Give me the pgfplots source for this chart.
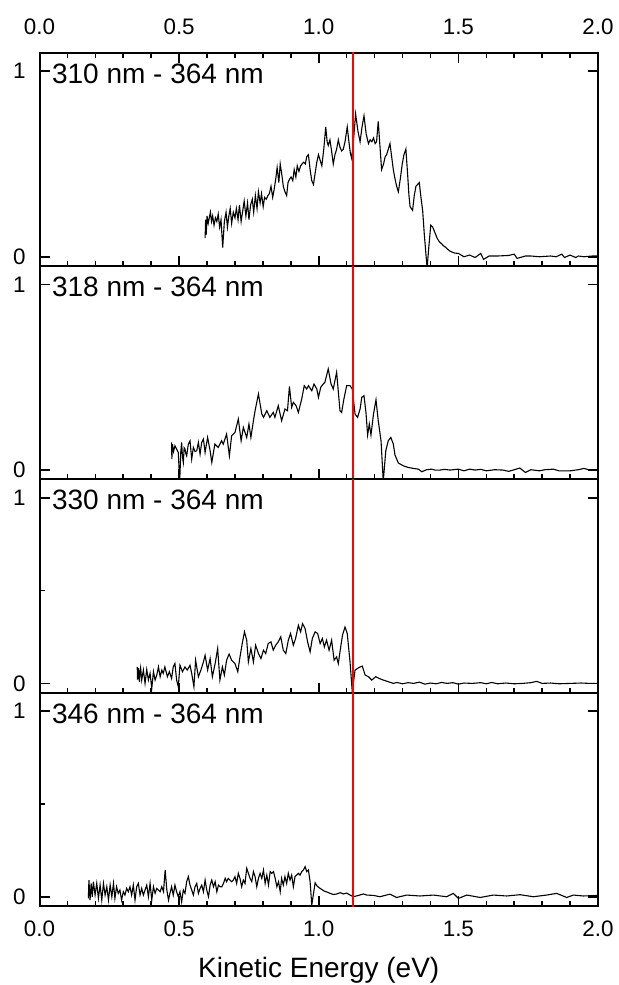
\documentclass[border=0pt]{standalone}
\usepackage{fontspec}
\setmainfont{Liberation Sans}
\usepackage{pgfplots}
\usepackage{pgfplotstable}
\pgfplotsset{compat=1.18}
\usepgfplotslibrary{groupplots}

% 310 nm - 364 nm
\pgfplotstableread{
x y
0.593 0.10
0.595 0.20
0.597 0.12
0.600 0.22
0.604 0.18
0.608 0.21
0.612 0.24
0.616 0.19
0.620 0.22
0.625 0.17
0.630 0.21
0.635 0.19
0.640 0.23
0.645 0.16
0.650 0.20
0.656 0.05
0.662 0.19
0.668 0.24
0.673 0.16
0.678 0.22
0.683 0.26
0.688 0.18
0.694 0.24
0.700 0.21
0.705 0.26
0.711 0.20
0.716 0.28
0.722 0.19
0.728 0.25
0.733 0.30
0.739 0.22
0.745 0.29
0.750 0.20
0.756 0.28
0.762 0.31
0.767 0.24
0.773 0.33
0.779 0.26
0.784 0.35
0.790 0.29
0.795 0.34
0.801 0.27
0.806 0.32
0.812 0.31
0.818 0.33
0.823 0.34
0.829 0.38
0.835 0.32
0.840 0.36
0.846 0.42
0.851 0.48
0.857 0.40
0.862 0.50
0.868 0.44
0.873 0.38
0.879 0.35
0.885 0.33
0.890 0.40
0.896 0.42
0.901 0.43
0.907 0.41
0.912 0.47
0.918 0.43
0.923 0.49
0.929 0.46
0.935 0.49
0.940 0.50
0.946 0.51
0.952 0.50
0.957 0.54
0.963 0.55
0.969 0.47
0.975 0.41
0.981 0.39
0.987 0.45
0.993 0.51
0.999 0.55
1.005 0.52
1.011 0.49
1.018 0.58
1.025 0.70
1.030 0.62
1.034 0.60
1.040 0.63
1.046 0.57
1.052 0.50
1.058 0.55
1.064 0.58
1.070 0.63
1.076 0.59
1.082 0.57
1.088 0.58
1.094 0.62
1.102 0.70
1.108 0.62
1.113 0.56
1.118 0.53
1.125 0.64
1.132 0.77
1.140 0.68
1.148 0.62
1.155 0.70
1.162 0.76
1.170 0.66
1.178 0.61
1.184 0.63
1.190 0.62
1.196 0.64
1.202 0.61
1.207 0.62
1.213 0.73
1.219 0.60
1.225 0.47
1.232 0.50
1.238 0.54
1.243 0.55
1.249 0.58
1.255 0.61
1.261 0.54
1.267 0.47
1.273 0.42
1.279 0.38
1.285 0.35
1.292 0.42
1.299 0.50
1.305 0.55
1.312 0.58
1.318 0.45
1.323 0.33
1.327 0.27
1.336 0.25
1.342 0.33
1.348 0.38
1.354 0.39
1.360 0.40
1.366 0.32
1.372 0.25
1.378 0.12
1.384 0.01
1.388 -0.06
1.394 0.05
1.401 0.17
1.408 0.16
1.416 0.13
1.424 0.10
1.432 0.08
1.440 0.07
1.446 0.06
1.455 0.05
1.462 0.04
1.470 0.03
1.478 0.025
1.486 0.02
1.500 0.018
1.520 0.000
1.540 0.009
1.560 -0.004
1.580 0.018
1.590 -0.014
1.610 0.004
1.640 0.004
1.680 0.007
1.700 0.014
1.710 -0.009
1.740 0.004
1.760 0.004
1.790 0.000
1.830 0.004
1.850 0.000
1.870 0.014
1.880 -0.004
1.900 0.009
1.920 -0.004
1.930 0.004
1.950 0.000
1.980 0.004
2.000 0.004
}\panelA

% 318 nm - 364 nm
\pgfplotstableread{
x y
0.473 0.149
0.474 0.059
0.476 0.140
0.480 0.100
0.485 0.131
0.491 0.113
0.497 0.095
0.500 0.000
0.503 -0.022
0.506 0.100
0.509 0.149
0.512 0.070
0.515 0.041
0.518 0.120
0.521 0.113
0.524 0.090
0.527 0.077
0.533 0.140
0.539 0.158
0.545 0.059
0.551 0.122
0.557 0.100
0.563 0.104
0.569 0.149
0.575 0.086
0.581 0.150
0.587 0.167
0.593 0.095
0.602 0.176
0.611 0.104
0.617 0.041
0.628 0.140
0.640 0.122
0.652 0.158
0.658 0.140
0.670 0.194
0.680 0.077
0.688 0.185
0.700 0.203
0.712 0.275
0.722 0.158
0.730 0.230
0.742 0.176
0.750 0.248
0.757 0.176
0.766 0.266
0.772 0.320
0.784 0.410
0.796 0.302
0.802 0.284
0.814 0.320
0.825 0.284
0.837 0.311
0.843 0.284
0.855 0.347
0.867 0.266
0.879 0.329
0.888 0.320
0.895 0.451
0.903 0.338
0.909 0.365
0.919 0.347
0.927 0.311
0.939 0.383
0.948 0.455
0.957 0.437
0.963 0.455
0.975 0.428
0.983 0.464
0.993 0.437
0.999 0.392
1.007 0.446
1.016 0.464
1.022 0.473
1.034 0.545
1.044 0.464
1.052 0.437
1.064 0.527
1.076 0.320
1.082 0.311
1.090 0.383
1.100 0.455
1.112 0.455
1.120 0.437
1.130 0.302
1.139 0.284
1.148 0.329
1.154 0.392
1.162 0.401
1.169 0.311
1.175 0.189
1.181 0.248
1.187 0.189
1.196 0.302
1.205 0.379
1.213 0.266
1.223 0.158
1.231 -0.060
1.240 0.104
1.249 0.158
1.258 0.176
1.267 0.140
1.273 0.081
1.285 0.038
1.303 0.023
1.321 0.014
1.339 0.009
1.357 0.005
1.369 -0.009
1.386 0.002
1.404 0.005
1.416 0.000
1.434 0.000
1.450 0.004
1.470 0.000
1.500 0.005
1.520 -0.004
1.540 0.005
1.560 0.000
1.580 0.004
1.600 -0.004
1.630 0.002
1.660 0.000
1.680 -0.007
1.700 0.002
1.720 0.011
1.740 -0.013
1.760 0.002
1.790 -0.004
1.810 0.002
1.840 0.005
1.860 -0.004
1.900 -0.004
1.930 0.002
1.950 0.009
1.970 0.000
2.000 0.000
}\panelB

% 330 nm - 364 nm
\pgfplotstableread{
x y
0.350 0.089
0.351 0.020
0.352 0.080
0.354 0.080
0.356 0.030
0.358 0.009
0.360 0.070
0.362 0.086
0.366 0.018
0.372 0.072
0.378 0.000
0.384 0.075
0.390 0.018
0.396 0.054
0.402 -0.027
0.408 0.063
0.414 0.018
0.420 0.045
0.426 0.089
0.432 0.036
0.438 0.072
0.443 0.054
0.449 0.089
0.458 0.036
0.465 0.063
0.473 0.027
0.479 0.089
0.485 0.107
0.491 0.018
0.497 -0.018
0.503 0.098
0.512 0.063
0.521 0.089
0.529 0.072
0.539 0.098
0.545 0.054
0.553 -0.018
0.559 0.125
0.569 0.036
0.578 0.072
0.587 0.116
0.593 0.152
0.602 0.072
0.611 0.134
0.619 0.036
0.629 0.107
0.638 0.188
0.646 0.018
0.655 0.089
0.662 0.045
0.670 0.125
0.679 0.158
0.688 0.125
0.700 0.107
0.710 0.063
0.718 0.143
0.726 0.215
0.734 0.278
0.742 0.233
0.748 0.116
0.757 0.188
0.766 0.116
0.774 0.206
0.784 0.161
0.793 0.134
0.802 0.179
0.810 0.161
0.819 0.215
0.829 0.224
0.837 0.179
0.846 0.206
0.855 0.224
0.864 0.251
0.873 0.179
0.882 0.161
0.891 0.233
0.899 0.269
0.909 0.206
0.917 0.242
0.927 0.313
0.935 0.278
0.942 0.322
0.951 0.296
0.960 0.224
0.969 0.170
0.977 0.242
0.987 0.278
0.996 0.269
1.005 0.215
1.013 0.242
1.020 0.197
1.028 0.233
1.037 0.179
1.046 0.233
1.055 0.125
1.064 0.143
1.070 0.107
1.076 0.170
1.085 0.260
1.094 0.304
1.102 0.269
1.112 0.116
1.120 -0.045
1.130 0.072
1.138 0.080
1.148 0.089
1.156 0.093
1.166 0.045
1.178 0.036
1.190 0.018
1.204 0.036
1.216 0.027
1.231 0.018
1.249 0.009
1.267 0.000
1.280 0.005
1.300 -0.002
1.320 0.004
1.340 0.000
1.360 0.007
1.380 -0.004
1.400 0.002
1.420 -0.002
1.440 0.005
1.460 0.000
1.480 0.004
1.500 -0.004
1.520 0.002
1.550 0.000
1.580 0.004
1.600 -0.002
1.620 0.005
1.640 -0.002
1.670 0.002
1.700 -0.002
1.730 0.000
1.760 0.004
1.780 0.011
1.800 0.000
1.830 0.002
1.860 -0.002
1.900 0.000
1.940 0.002
1.970 0.000
2.000 0.000
}\panelC

% 346 nm - 364 nm
\pgfplotstableread{
x y
0.175 -0.009
0.177 0.090
0.181 -0.018
0.185 0.072
0.189 0.000
0.193 0.081
0.199 0.009
0.205 0.072
0.211 -0.009
0.217 0.063
0.223 -0.018
0.229 0.072
0.235 0.009
0.241 0.054
0.247 -0.018
0.253 0.063
0.259 0.000
0.265 0.072
0.270 -0.009
0.276 0.054
0.282 0.018
0.288 0.036
0.294 -0.018
0.300 0.027
0.306 0.009
0.312 0.045
0.318 0.027
0.324 0.054
0.330 0.009
0.336 0.063
0.342 -0.018
0.348 0.054
0.354 0.072
0.360 0.009
0.366 0.045
0.372 0.009
0.378 0.036
0.384 0.063
0.390 0.000
0.396 0.072
0.402 -0.018
0.408 0.054
0.414 0.018
0.420 0.045
0.426 0.036
0.432 0.027
0.438 0.054
0.444 0.027
0.450 0.144
0.456 0.036
0.462 -0.018
0.467 0.018
0.473 0.054
0.479 0.009
0.485 0.063
0.491 0.027
0.497 0.000
0.503 0.027
0.509 -0.027
0.515 0.036
0.521 0.018
0.527 0.081
0.533 0.108
0.539 0.063
0.545 0.036
0.551 0.009
0.557 0.054
0.563 0.072
0.569 0.018
0.575 0.045
0.581 0.063
0.587 0.027
0.593 0.090
0.599 0.036
0.605 0.000
0.611 0.063
0.617 0.090
0.623 0.054
0.629 0.081
0.635 0.027
0.641 0.063
0.647 0.054
0.653 0.054
0.659 0.072
0.665 0.099
0.670 0.081
0.676 0.099
0.682 0.090
0.688 0.081
0.694 0.090
0.700 0.108
0.706 0.072
0.712 0.126
0.718 0.099
0.724 0.054
0.730 0.090
0.736 0.072
0.742 0.153
0.748 0.126
0.754 0.099
0.760 0.081
0.766 0.135
0.772 0.108
0.778 0.054
0.784 0.099
0.790 0.126
0.796 0.099
0.802 0.144
0.808 0.072
0.814 0.117
0.820 0.063
0.826 0.135
0.832 0.126
0.838 0.135
0.844 0.099
0.850 0.054
0.856 0.081
0.862 0.027
0.867 0.099
0.873 0.063
0.879 0.108
0.885 0.072
0.891 0.126
0.897 0.090
0.903 0.117
0.909 0.054
0.915 0.108
0.921 0.117
0.927 0.126
0.933 0.117
0.939 0.135
0.945 0.144
0.951 0.162
0.957 0.135
0.963 0.144
0.969 0.081
0.975 -0.045
0.987 0.075
0.993 0.060
1.000 0.050
1.010 0.040
1.020 0.030
1.030 0.025
1.041 0.018
1.052 0.012
1.065 0.015
1.077 0.022
1.088 0.015
1.100 0.020
1.112 0.009
1.124 0.000
1.142 0.007
1.160 0.015
1.172 0.009
1.196 0.007
1.219 0.000
1.255 0.014
1.279 -0.004
1.315 0.009
1.362 0.004
1.410 0.009
1.458 0.000
1.482 0.018
1.500 -0.009
1.530 0.009
1.578 -0.004
1.625 0.009
1.673 0.004
1.721 0.011
1.768 0.000
1.816 0.009
1.852 0.018
1.888 -0.004
1.912 0.009
1.947 0.004
2.000 0.007
}\panelD

\newcommand{\ticksize}{\fontsize{11.2}{13}\selectfont}
\newcommand{\labsize}{\fontsize{14}{16}\selectfont}

\begin{document}
\begin{tikzpicture}
\begin{groupplot}[
    group style={group size=1 by 4, vertical sep=0pt},
    scale only axis,
    width=279.25pt, height=106.66pt,
    xmin=0, xmax=2, ymin=-0.05, ymax=1.1,
    xtick={0,0.5,1,1.5,2}, minor x tick num=4,
    ytick={0,1}, yticklabels={0,1},
    tick align=inside,
    major tick length=5pt, minor tick length=2.5pt,
    tick style={black, line width=0.8pt},
    axis line style={line width=1pt},
    xtick pos=left, ytick pos=both,
    xticklabels={},
    yticklabel style={font=\ticksize, anchor=east, inner sep=0pt, xshift=-6.75pt},
    clip mode=individual,
]
\nextgroupplot[xtick pos=both, xticklabel pos=right,
    xticklabels={0.0,0.5,1.0,1.5,2.0},
    xticklabel style={font=\ticksize, anchor=base, inner sep=0pt, yshift=8.85pt}]
\addplot[black, line width=0.55pt] table {\panelA};
\addplot[red, line width=1pt] coordinates {(1.124,-0.1) (1.124,1.2)};
\node[anchor=base west, inner sep=0pt, font=\labsize, xshift=6.1pt, yshift=-15.3pt] at (rel axis cs:0,1) {310 nm - 364 nm};

\nextgroupplot
\addplot[black, line width=0.55pt] table {\panelB};
\addplot[red, line width=1pt] coordinates {(1.124,-0.1) (1.124,1.2)};
\node[anchor=base west, inner sep=0pt, font=\labsize, xshift=6.1pt, yshift=-15.3pt] at (rel axis cs:0,1) {318 nm - 364 nm};

\nextgroupplot[extra y ticks={0.5}, extra y tick labels={},
    extra y tick style={ytick pos=left, major tick length=2.5pt}]
\addplot[black, line width=0.55pt] table {\panelC};
\addplot[red, line width=1pt] coordinates {(1.124,-0.1) (1.124,1.2)};
\node[anchor=base west, inner sep=0pt, font=\labsize, xshift=6.1pt, yshift=-15.3pt] at (rel axis cs:0,1) {330 nm - 364 nm};

\nextgroupplot[xticklabels={0.0,0.5,1.0,1.5,2.0},
    xticklabel style={font=\ticksize, anchor=base, inner sep=0pt, yshift=-15.35pt},
    extra y ticks={0.5}, extra y tick labels={},
    extra y tick style={ytick pos=left, major tick length=2.5pt}]
\addplot[black, line width=0.55pt] table {\panelD};
\addplot[red, line width=1pt] coordinates {(1.124,-0.1) (1.124,1.2)};
\node[anchor=base west, inner sep=0pt, font=\labsize, xshift=6.1pt, yshift=-15.3pt] at (rel axis cs:0,1) {346 nm - 364 nm};
\end{groupplot}
\node[anchor=base, inner sep=0pt, font=\labsize] at ([yshift=-35.5pt]group c1r4.south) {Kinetic Energy (eV)};
\pgfresetboundingbox
\path[use as bounding box] ([xshift=-19.75pt,yshift=-39.5pt]group c1r4.south west) rectangle ([xshift=289.25pt,yshift=26.35pt]group c1r1.north west);
\end{tikzpicture}
\end{document}
